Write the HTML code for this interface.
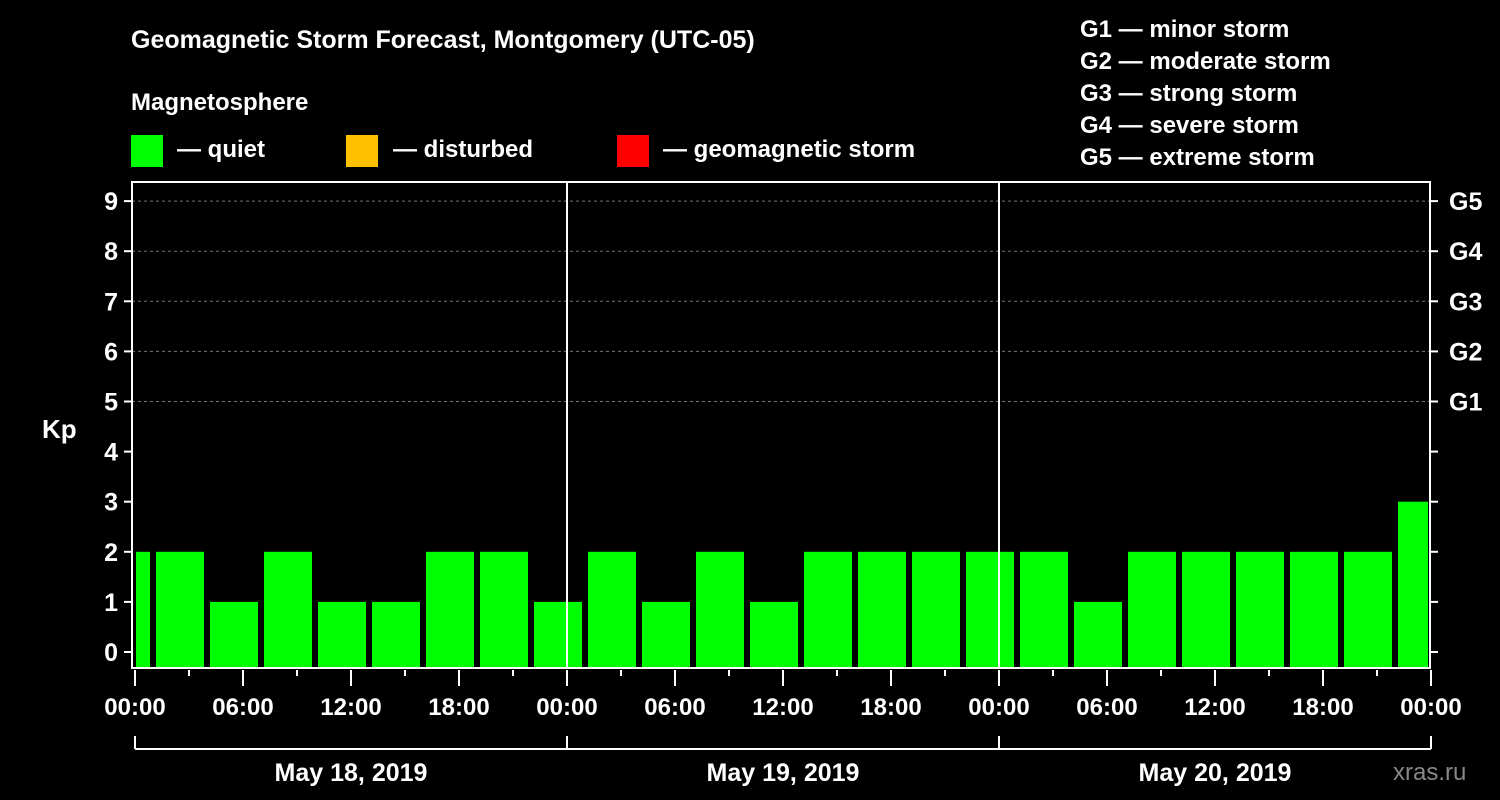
<!DOCTYPE html>
<html><head><meta charset="utf-8"><style>
html,body{margin:0;padding:0;background:#000;}
svg{display:block;font-family:"Liberation Sans",Arial,sans-serif;font-weight:bold;}
</style></head><body>
<svg id="chart" width="1500" height="800" viewBox="0 0 1500 800" xmlns="http://www.w3.org/2000/svg">
<rect width="1500" height="800" fill="#000"/>
<text x="131" y="48" fill="#fff" font-size="25">Geomagnetic Storm Forecast, Montgomery (UTC-05)</text>
<text x="131" y="110" fill="#fff" font-size="24">Magnetosphere</text>
<rect x="131" y="135" width="32" height="32" fill="#00ff00"/>
<text x="177" y="157" fill="#fff" font-size="24">— quiet</text>
<rect x="346" y="135" width="32" height="32" fill="#ffc000"/>
<text x="393" y="157" fill="#fff" font-size="24">— disturbed</text>
<rect x="617" y="135" width="32" height="32" fill="#ff0000"/>
<text x="663" y="157" fill="#fff" font-size="24">— geomagnetic storm</text>
<g fill="#fff" font-size="24">
<text x="1080" y="37">G1 — minor storm</text>
<text x="1080" y="69">G2 — moderate storm</text>
<text x="1080" y="101">G3 — strong storm</text>
<text x="1080" y="133">G4 — severe storm</text>
<text x="1080" y="165">G5 — extreme storm</text>
</g>
<text x="42" y="438" fill="#fff" font-size="26">Kp</text>
<g id="grid"></g><g id="bars"></g><g id="axes"></g>
<text x="1393" y="780" fill="#888" font-size="24" font-weight="normal">xras.ru</text>
</svg>
<script>
const dayLabels = ["May 18, 2019", "May 19, 2019", "May 20, 2019"];
const kpValues = [2, 2,1,2,1,1,2,2,1, 2,1,2,1,2,2,2,2, 2,1,2,2,2,2,2,3];
const barStartHours = [-2, 1,4,7,10,13,16,19,22, 25,28,31,34,37,40,43,46, 49,52,55,58,61,64,67,70];
const yTicks = [0,1,2,3,4,5,6,7,8,9];
const gLabels = ["G1","G2","G3","G4","G5"];
const xTickLabels = ["00:00","06:00","12:00","18:00","00:00","06:00","12:00","18:00","00:00","06:00","12:00","18:00","00:00"];
const NS="http://www.w3.org/2000/svg";
const X0=135, PXH=18, L=132, R=1430, T=182, B=668;
const x = h => X0 + h*PXH;
const y = v => 652 - v*50.1;
function mk(tag, attrs, parent){const e=document.createElementNS(NS,tag);for(const k in attrs)e.setAttribute(k,attrs[k]);parent.appendChild(e);return e;}
const grid=document.getElementById('grid'), bars=document.getElementById('bars'), axes=document.getElementById('axes');
for(let v=5; v<=9; v++){
  const l=mk('line',{x1:L,x2:R,y1:y(v),y2:y(v),stroke:'#777','stroke-dasharray':'3,3','stroke-width':1},grid);
  
  
}
kpValues.forEach((v,i)=>{
  const s=Math.max(x(barStartHours[i])+3, L+4);
  const e=Math.min(x(barStartHours[i]+3)-3, R-2);
  const r=mk('rect',{x:s,y:y(v),width:e-s,height:B-y(v),fill:v>=5?'#ff0000':(v>=4?'#ffc000':'#00ff00')},bars);
  
  
});
mk('rect',{x:L,y:T,width:R-L,height:B-T,fill:'none',stroke:'#fff','stroke-width':2},axes);
[1,2].forEach(d=>{
  const l=mk('line',{x1:x(24*d),x2:x(24*d),y1:T,y2:B,stroke:'#fff','stroke-width':2},axes);
  
  
});
yTicks.forEach(v=>{
  mk('line',{x1:L-8,x2:L,y1:y(v),y2:y(v),stroke:'#fff','stroke-width':2},axes);
  mk('line',{x1:R,x2:R+8,y1:y(v),y2:y(v),stroke:'#fff','stroke-width':2},axes);
  const t=mk('text',{x:118,y:y(v)+9,fill:'#fff','font-size':25,'text-anchor':'end'},axes);
  t.textContent=v;
  
  
});
gLabels.forEach((g,i)=>{
  const t=mk('text',{x:1449,y:y(5+i)+9,fill:'#fff','font-size':25},axes);
  t.textContent=g;
  
  
});
for(let h=0; h<=72; h+=3){
  const major=h%6===0;
  mk('line',{x1:x(h),x2:x(h),y1:B+2,y2:major?B+18:B+8,stroke:'#fff','stroke-width':2},axes);
}
xTickLabels.forEach((s,i)=>{
  const t=mk('text',{x:x(i*6),y:715,fill:'#fff','font-size':24,'text-anchor':'middle'},axes);
  t.textContent=s;
  
  
});
mk('line',{x1:x(0),x2:x(72),y1:749,y2:749,stroke:'#fff','stroke-width':2},axes);
for(let d=0; d<=3; d++) mk('line',{x1:x(24*d),x2:x(24*d),y1:736,y2:749,stroke:'#fff','stroke-width':2},axes);
dayLabels.forEach((s,i)=>{
  const t=mk('text',{x:x(24*i+12),y:781,fill:'#fff','font-size':25,'text-anchor':'middle'},axes);
  t.textContent=s;
  
  
});
</script>
</body></html>
